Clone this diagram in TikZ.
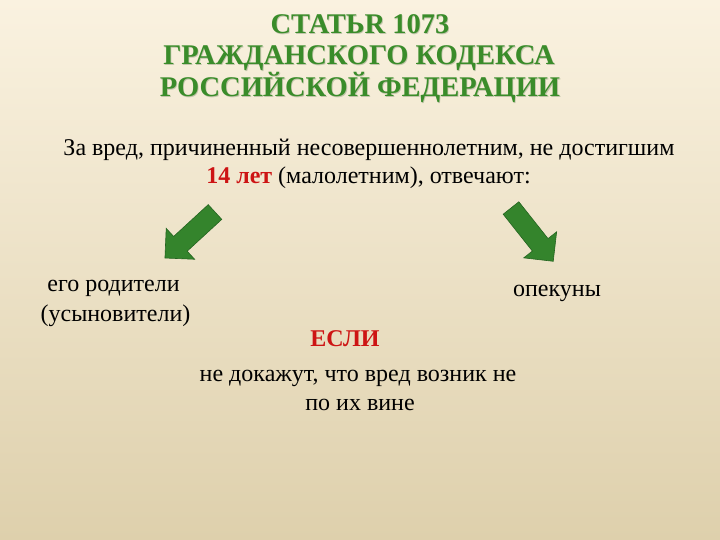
\documentclass[tikz,border=0pt]{standalone}
\usepackage{fontspec}
\setmainfont{Liberation Serif}
\definecolor{bgtop}{RGB}{250,242,224}
\definecolor{bgbot}{RGB}{222,208,172}
\definecolor{titlegreen}{RGB}{58,140,42}
\definecolor{titleshadow}{RGB}{40,80,30}
\definecolor{arrowgreen}{RGB}{52,132,44}
\definecolor{arrowdark}{RGB}{36,100,32}
\definecolor{redtxt}{RGB}{205,20,20}
\tikzset{
  titletext/.style={font=\fontsize{28.5}{31.7}\selectfont\bfseries, text=titlegreen, inner sep=0pt, anchor=base},
  shadowtext/.style={font=\fontsize{28.5}{31.7}\selectfont\bfseries, text=titleshadow, opacity=0.25, inner sep=0pt, anchor=base},
  bodytext/.style={font=\fontsize{24}{28}\selectfont, text=black, inner sep=0pt, anchor=base},
  blockarrow/.style={fill=arrowgreen, draw=arrowdark, line width=0.6pt, line join=miter},
}
\begin{document}
\begin{tikzpicture}[x=1pt,y=-1pt]
\shade[top color=bgtop, bottom color=bgbot] (0,0) rectangle (720,540);
\useasboundingbox (0,0) rectangle (720,540);
% title (shadow then text)
\node[shadowtext] (titleAs) at (360.8,34.1) {СТАТЬR 1073};
\node[shadowtext] (titleBs) at (359.8,65.8) {ГРАЖДАНСКОГО КОДЕКСА};
\node[shadowtext] (titleCs) at (360.8,97.5) {РОССИЙСКОЙ ФЕДЕРАЦИИ};
\node[titletext] (titleA) at (360,33.3) {СТАТЬR 1073};
\node[titletext] (titleB) at (359,65) {ГРАЖДАНСКОГО КОДЕКСА};
\node[titletext] (titleC) at (360,96.7) {РОССИЙСКОЙ ФЕДЕРАЦИИ};
% intro
\node[bodytext] (introA) at (369,156) {За вред, причиненный несовершеннолетним, не достигшим};
\node[bodytext] (introB) at (368.5,184) {{\color{redtxt}\bfseries 14 лет} (малолетним), отвечают:};
% arrows
\begin{scope}[shift={(215,212)}, rotate=-137.4]
  \draw[blockarrow] (0,-10) -- (47,-10) -- (47,-21) -- (68,0) -- (47,21) -- (47,10) -- (0,10) -- cycle;
\end{scope}
\begin{scope}[shift={(511,208)}, rotate=-51.6]
  \draw[blockarrow] (0,-10) -- (47,-10) -- (47,-21) -- (68,0) -- (47,21) -- (47,10) -- (0,10) -- cycle;
\end{scope}
% results
\node[bodytext] (parentsA) at (113.5,291.7) {его родители};
\node[bodytext] (parentsB) at (115.5,321.7) {(усыновители)};
\node[bodytext] (guardians) at (557,296.7) {опекуны};
\node[bodytext, text=redtxt, font=\fontsize{24}{28}\selectfont\bfseries] (if) at (345,346.7) {ЕСЛИ};
\node[bodytext] (condA) at (358,381.7) {не докажут, что вред возник не};
\node[bodytext] (condB) at (360,410.7) {по их вине};
\end{tikzpicture}
\end{document}
